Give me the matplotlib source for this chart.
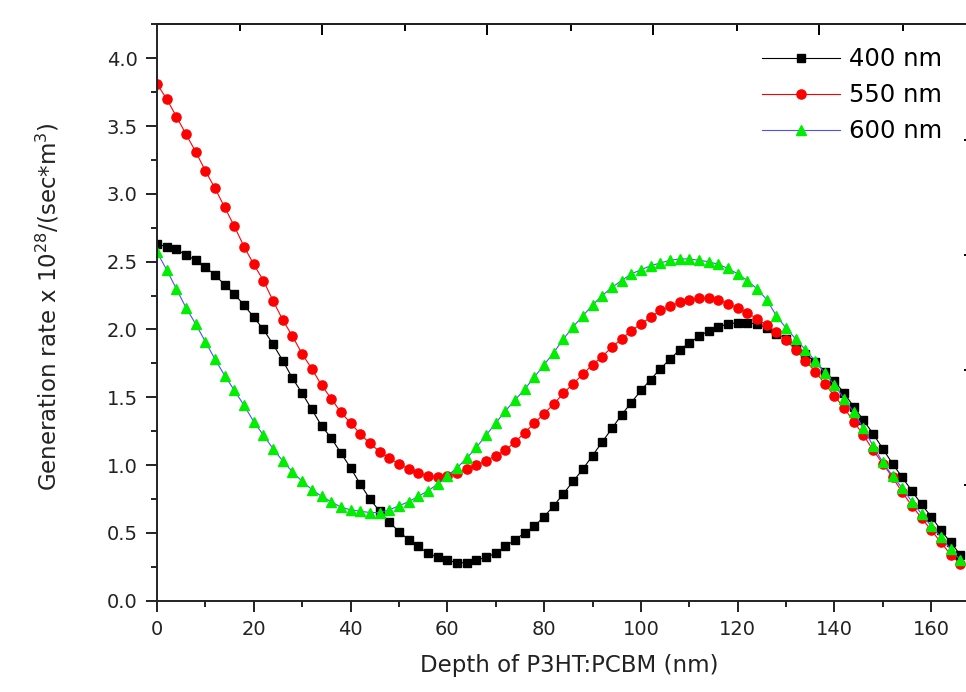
import numpy as np
import matplotlib
matplotlib.use("Agg")
from matplotlib import pyplot as plt
from matplotlib.ticker import MultipleLocator, FormatStrFormatter

# depth grid (nm), values every 2 nm
depth = np.arange(0, 168, 2)

g400 = [2.63, 2.61, 2.59, 2.55, 2.51, 2.46, 2.40, 2.33, 2.26, 2.18,
        2.09, 2.00, 1.89, 1.77, 1.64, 1.53, 1.41, 1.29, 1.20, 1.09,
        0.98, 0.86, 0.75, 0.66, 0.58, 0.51, 0.45, 0.40, 0.35, 0.32,
        0.30, 0.28, 0.28, 0.30, 0.32, 0.35, 0.40, 0.45, 0.50, 0.55,
        0.62, 0.70, 0.79, 0.88, 0.97, 1.07, 1.17, 1.27, 1.37, 1.46,
        1.55, 1.63, 1.71, 1.78, 1.85, 1.90, 1.95, 1.99, 2.02, 2.04,
        2.05, 2.05, 2.04, 2.01, 1.97, 1.93, 1.88, 1.82, 1.76, 1.69,
        1.62, 1.53, 1.43, 1.33, 1.23, 1.12, 1.01, 0.91, 0.81, 0.71,
        0.62, 0.52, 0.43, 0.34]

g550 = [3.81, 3.70, 3.57, 3.44, 3.31, 3.17, 3.04, 2.90, 2.76, 2.61,
        2.48, 2.36, 2.21, 2.07, 1.95, 1.82, 1.71, 1.59, 1.49, 1.39,
        1.31, 1.23, 1.16, 1.10, 1.05, 1.01, 0.97, 0.94, 0.92, 0.91,
        0.92, 0.94, 0.97, 1.00, 1.03, 1.07, 1.11, 1.17, 1.24, 1.31,
        1.38, 1.45, 1.53, 1.60, 1.67, 1.74, 1.80, 1.87, 1.93, 1.99,
        2.04, 2.09, 2.14, 2.17, 2.20, 2.22, 2.23, 2.23, 2.22, 2.19,
        2.16, 2.12, 2.08, 2.03, 1.98, 1.92, 1.85, 1.77, 1.69, 1.60,
        1.51, 1.42, 1.32, 1.22, 1.11, 1.01, 0.91, 0.80, 0.70, 0.61,
        0.52, 0.43, 0.34, 0.27]

g600 = [2.57, 2.44, 2.30, 2.16, 2.04, 1.91, 1.78, 1.66, 1.55, 1.44,
        1.32, 1.22, 1.12, 1.03, 0.95, 0.88, 0.82, 0.77, 0.73, 0.69,
        0.67, 0.66, 0.65, 0.65, 0.67, 0.70, 0.73, 0.77, 0.81, 0.86,
        0.92, 0.98, 1.05, 1.13, 1.22, 1.31, 1.40, 1.48, 1.56, 1.65,
        1.74, 1.83, 1.93, 2.02, 2.10, 2.18, 2.25, 2.31, 2.36, 2.41,
        2.44, 2.47, 2.49, 2.51, 2.52, 2.52, 2.51, 2.50, 2.48, 2.45,
        2.41, 2.36, 2.30, 2.22, 2.10, 2.01, 1.93, 1.85, 1.77, 1.68,
        1.59, 1.49, 1.39, 1.27, 1.14, 1.02, 0.92, 0.83, 0.73, 0.64,
        0.55, 0.47, 0.38, 0.30]

labels = ['400 nm', '550 nm', '600 nm']

fig = plt.figure(figsize=(9.66, 6.92), dpi=100)
ax = fig.add_axes([0.1625, 0.1319, 0.8416, 0.833])

ax.plot(depth, g400, color='k', lw=0.8, marker='s', ms=5.8,
        mfc='k', mec='k', label=labels[0])
ax.plot(depth, g550, color='r', lw=0.8, marker='o', ms=6.6,
        mfc='r', mec='r', label=labels[1])
ax.plot(depth, g600, color='#5050ff', lw=0.8, marker='^', ms=7.2,
        mfc='#00ee00', mec='#00ee00', label=labels[2])

ax.set_xlim(0, 168)
ax.set_ylim(0, 4.25)
ax.xaxis.set_major_locator(MultipleLocator(20))
ax.xaxis.set_minor_locator(MultipleLocator(10))
ax.yaxis.set_major_locator(MultipleLocator(0.5))
ax.yaxis.set_minor_locator(MultipleLocator(0.25))
ax.yaxis.set_major_formatter(FormatStrFormatter('%.1f'))

for s in ax.spines.values():
    s.set_linewidth(1.4)
    s.set_color('#222222')
ax.spines['right'].set_visible(False)
ax.tick_params(which='major', direction='out', length=8, width=1.4,
               labelsize=14, pad=6, colors='#222222')
ax.tick_params(which='minor', direction='out', length=4.5, width=1.4,
               colors='#222222')
ax.tick_params(top=False, right=False)

# top axis ticks (other scale in the original, no labels)
top = ax.secondary_xaxis('top')
top.set_xticks([34.0, 68.3, 102.6, 136.9], labels=[])
top.set_xticks([17.1, 51.3, 85.5, 119.8, 154.1], minor=True)
top.tick_params(which='major', direction='in', length=8, width=1.4)
top.tick_params(which='minor', direction='in', length=5, width=1.4)
top.spines['top'].set_linewidth(1.4)

# right axis only shows a few inward ticks at the image edge
right = ax.twinx()
right.set_ylim(0, 1)
right.set_yticks([0.2, 0.4, 0.6, 0.8], labels=[])
right.tick_params(direction='in', length=4, width=1.4)
for s in right.spines.values():
    s.set_visible(False)
right.spines['right'].set_visible(True)
right.spines['right'].set_linewidth(1.4)

ax.set_xlabel('Depth of P3HT:PCBM (nm)', fontsize=16.5, color='#222222')
ax.xaxis.set_label_coords(0.507, -0.093)
ax.set_ylabel('Generation rate x 10$^{28}$/(sec*m$^{3}$)', fontsize=16.5,
              color='#222222', va='center', ha='center')
ax.yaxis.set_label_coords(-0.134, 0.51)

ax.legend(loc='upper right', bbox_to_anchor=(0.99, 0.953),
          bbox_transform=fig.transFigure, frameon=False, fontsize=17.5,
          numpoints=1, handlelength=3.2, handletextpad=0.35,
          labelspacing=0.5, borderpad=0.1)

fig.savefig('out.png', dpi=100)
